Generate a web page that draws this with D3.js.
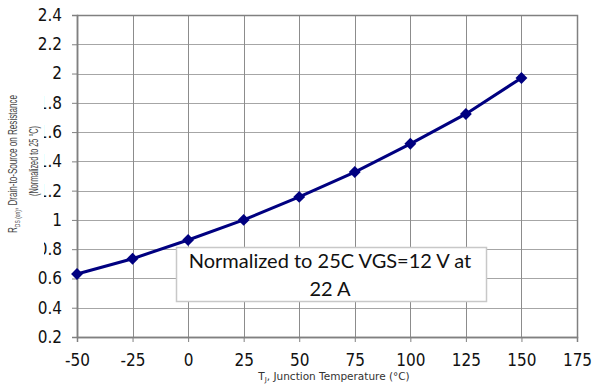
<!DOCTYPE html>
<html>
<head>
<meta charset="utf-8">
<script src="https://cdn.jsdelivr.net/npm/d3@7"></script>
<style>
  body { margin: 0; background: #fff; }
  svg { display: block; }
</style>
</head>
<body>
<div id="chart"></div>
<script>
// data
var temps = [-50, -25, 0, 25, 50, 75, 100, 125, 150];
var rdsNorm = [0.63, 0.735, 0.863, 1.0, 1.157, 1.327, 1.52, 1.724, 1.97];
var xTicks = [-50, -25, 0, 25, 50, 75, 100, 125, 150, 175];
var yTicks = [0.2, 0.4, 0.6, 0.8, 1, 1.2, 1.4, 1.6, 1.8, 2, 2.2, 2.4];
var noteLines = ["Normalized to 25C VGS=12 V at", "22 A"];

var W = 593, H = 388;
var margin = {top: 15, right: 16, bottom: 51, left: 77};
var width = W - margin.left - margin.right;
var height = H - margin.top - margin.bottom;

var svg = d3.select("#chart").append("svg")
    .attr("width", W)
    .attr("height", H);

var g = svg.append("g")
    .attr("transform", "translate(" + margin.left + "," + margin.top + ")");

var x = d3.scaleLinear().domain([-50, 175]).range([0, width]);
var y = d3.scaleLinear().domain([0.2, 2.4]).range([height, 0]);

// grid
g.append("g").selectAll("line.hg")
    .data(yTicks)
    .enter().append("line")
    .attr("x1", 0).attr("x2", width)
    .attr("y1", function(d) { return Math.round(y(d)) + 0.5; })
    .attr("y2", function(d) { return Math.round(y(d)) + 0.5; })
    .attr("stroke", "#a6a6a6")
    .attr("stroke-width", 1);

g.append("g").selectAll("line.vg")
    .data(xTicks)
    .enter().append("line")
    .attr("y1", 0).attr("y2", height)
    .attr("x1", function(d) { return Math.round(x(d)) + 0.5; })
    .attr("x2", function(d) { return Math.round(x(d)) + 0.5; })
    .attr("stroke", "#8c8c8c")
    .attr("stroke-width", 1);

// plot frame
g.append("rect")
    .attr("x", 0.5).attr("y", 0.5)
    .attr("width", width).attr("height", height)
    .attr("fill", "none")
    .attr("stroke", "#808080")
    .attr("stroke-width", 1.5);

// axes
var fmt = function(d) { return String(d); };   // plain hyphen minus, like the original

var xAxis = g.append("g")
    .attr("transform", "translate(0," + height + ")")
    .call(d3.axisBottom(x).tickValues(xTicks).tickSize(5).tickPadding(12).tickFormat(fmt));

var yAxis = g.append("g")
    .call(d3.axisLeft(y).tickValues(yTicks).tickSize(5).tickPadding(10).tickFormat(fmt));

[xAxis, yAxis].forEach(function(a) {
  a.attr("font-family", null).attr("font-size", null);
  a.select(".domain").attr("stroke", "#808080").attr("stroke-width", 1.5);
  a.selectAll(".tick line").attr("stroke", "#808080");
  a.selectAll(".tick text")
    .attr("fill", "#111")
    .style("font-family", "'DejaVu Sans', sans-serif")
    .style("font-stretch", "condensed")
    .style("font-size", "17px");
});
xAxis.selectAll(".tick text").attr("dy", "0.71em");

// y title with white backing (it hides the leading digits, as in the reference)
var yt = svg.append("g");
yt.append("rect")
    .attr("x", 0).attr("y", 90)
    .attr("width", 44).attr("height", 172)
    .attr("fill", "#fff");

var t1 = yt.append("text")
    .attr("transform", "translate(17,164) rotate(-90)")
    .attr("text-anchor", "middle")
    .attr("textLength", 138)
    .attr("lengthAdjust", "spacingAndGlyphs")
    .style("font-family", "'Liberation Sans', sans-serif")
    .style("font-size", "13px")
    .attr("fill", "#444");
t1.append("tspan").text("R");
t1.append("tspan").attr("dy", 3).style("font-size", "8px").text("DS (on)");
t1.append("tspan").attr("dy", -3).text(", Drain-to-Source on Resistance");

yt.append("text")
    .attr("transform", "translate(38,161) rotate(-90)")
    .attr("text-anchor", "middle")
    .attr("textLength", 70)
    .attr("lengthAdjust", "spacingAndGlyphs")
    .style("font-family", "'Liberation Sans', sans-serif")
    .style("font-size", "12px")
    .attr("fill", "#444")
    .text("(Normalized to 25 °C)");

// x title
var xt = svg.append("text")
    .attr("x", 334).attr("y", 380)
    .attr("text-anchor", "middle")
    .style("font-family", "'DejaVu Sans', sans-serif")
    .style("font-size", "10.5px")
    .attr("fill", "#333");
xt.append("tspan").text("T");
xt.append("tspan").attr("dy", 2).style("font-size", "7px").text("J");
xt.append("tspan").attr("dy", -2).text(", Junction Temperature (°C)");

// series
var pts = temps.map(function(t, i) { return [t, rdsNorm[i]]; });

g.append("path")
    .datum(pts)
    .attr("fill", "none")
    .attr("stroke", "#000080")
    .attr("stroke-width", 3)
    .attr("d", d3.line()
        .x(function(d) { return x(d[0]); })
        .y(function(d) { return y(d[1]); }));

g.append("g").selectAll("path.mk")
    .data(pts)
    .enter().append("path")
    .attr("transform", function(d) { return "translate(" + x(d[0]) + "," + y(d[1]) + ")"; })
    .attr("d", d3.symbol().type(d3.symbolDiamond2).size(90))
    .attr("fill", "#000080");

// note box
var nb = svg.append("g");
nb.append("rect")
    .attr("x", 176.5).attr("y", 247.5)
    .attr("width", 310).attr("height", 54)
    .attr("fill", "#fff")
    .attr("stroke", "#c8c8c8")
    .attr("stroke-width", 1.5);

nb.selectAll("text")
    .data(noteLines)
    .enter().append("text")
    .attr("x", 330)
    .attr("y", function(d, i) { return 268 + i * 28; })
    .attr("text-anchor", "middle")
    .style("font-family", "Lato, 'Open Sans', sans-serif")
    .style("font-size", "20px")
    .attr("fill", "#111")
    .text(function(d) { return d; });
</script>
</body>
</html>
